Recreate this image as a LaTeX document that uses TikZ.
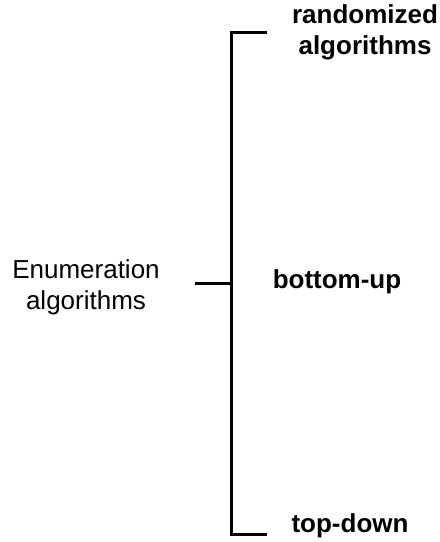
\documentclass[tikz,border=0pt]{standalone}
\usepackage{fontspec}
\setmainfont{Liberation Sans}
\usepackage{tikz}
\usetikzlibrary{positioning,calc}

\begin{document}
\begin{tikzpicture}[x=1pt,y=-1pt,
    label/.style={align=center, inner sep=0pt, font=\fontsize{26}{31}\selectfont},
    branch/.style={label, font=\fontsize{26}{31}\selectfont\bfseries},
    bracket/.style={line width=3pt}]
    \useasboundingbox (0,0) rectangle (440,542);

    % Root
    \node[label] (enum) at (86,287) {Enumeration\\algorithms};

    % Branches
    \node[branch] (rand) at (365,32) {randomized\\algorithms};
    \node[branch] (bottom) at (337,282) {bottom-up};
    \node[branch] (top) at (350,526) {top-down};

    % Bracket
    \coordinate (stub) at (195,283);
    \coordinate (join) at (231,283);
    \coordinate (upper) at (231,32);
    \coordinate (lower) at (231,534);
    \coordinate (upperend) at (267,32);
    \coordinate (lowerend) at (267,534);
    \draw[bracket] (upperend) -- (upper) -- (lower) -- (lowerend);
    \draw[bracket] (stub) -- (join);
\end{tikzpicture}
\end{document}
